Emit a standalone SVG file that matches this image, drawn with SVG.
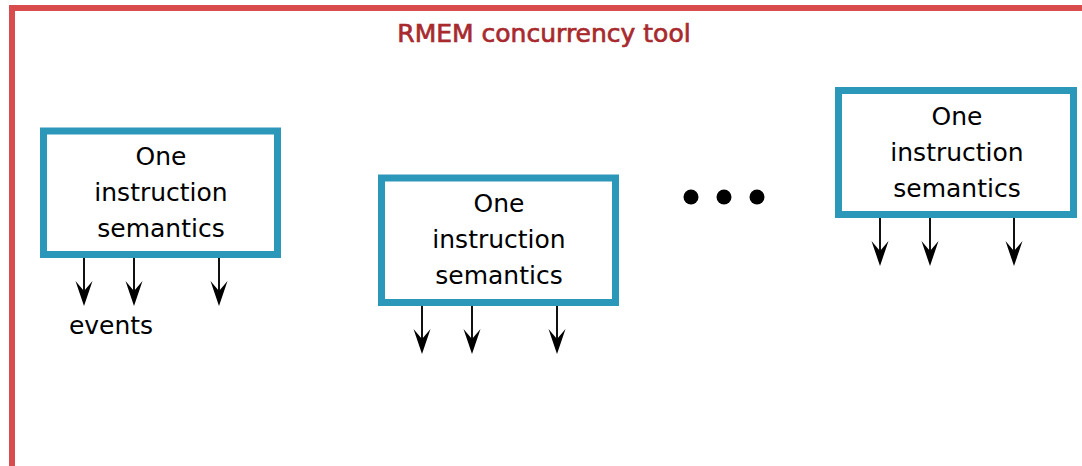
<svg xmlns="http://www.w3.org/2000/svg" width="1082" height="466" viewBox="0 0 1082 466">
  <style>
    .frame { fill: none; stroke: #d94c4e; stroke-width: 6; }
    .title { font-family: "DejaVu Sans", sans-serif; font-size: 25px; fill: #a82a2e; stroke: #a82a2e; stroke-width: 0.7; text-anchor: middle; }
    .box { fill: #ffffff; stroke: #2c98b9; stroke-width: 7; }
    .label { font-family: "DejaVu Sans", sans-serif; font-size: 25px; fill: #000000; text-anchor: middle; }
    .conn { stroke: #111111; stroke-width: 2; fill: none; marker-end: url(#barb); }
    .dot { fill: #000000; }
  </style>
  <defs>
    <marker id="barb" markerUnits="userSpaceOnUse" orient="auto" viewBox="-26 -10 27 20" refX="-10" refY="0" markerWidth="27" markerHeight="20">
      <path d="M0,0 L-25,-8.5 L-15,0 L-25,8.5 Z" fill="#000000"/>
    </marker>
  </defs>

  <rect width="1082" height="466" fill="#ffffff"/>

  <!-- outer tool frame, running off the right and bottom edges -->
  <rect class="frame" x="12" y="8" width="1090" height="480"/>
  <text class="title" x="544" y="42">RMEM concurrency tool</text>

  <g id="node-left">
    <rect class="box" x="43.5" y="131" width="234" height="123.5"/>
    <text class="label" x="161" y="165">One</text>
    <text class="label" x="161" y="201">instruction</text>
    <text class="label" x="161" y="237">semantics</text>
  </g>

  <g id="node-middle">
    <rect class="box" x="381.5" y="178" width="234" height="124.5"/>
    <text class="label" x="499" y="212">One</text>
    <text class="label" x="499" y="248">instruction</text>
    <text class="label" x="499" y="284">semantics</text>
  </g>

  <g id="node-right">
    <rect class="box" x="838.5" y="90.5" width="235" height="124"/>
    <text class="label" x="957" y="125">One</text>
    <text class="label" x="957" y="161">instruction</text>
    <text class="label" x="957" y="197">semantics</text>
  </g>

  <g id="ellipsis">
    <circle class="dot" cx="691" cy="197" r="7.5"/>
    <circle class="dot" cx="724" cy="197" r="7.5"/>
    <circle class="dot" cx="757" cy="197" r="7.5"/>
  </g>

  <g id="events-label">
    <text class="label" x="111" y="334">events</text>
  </g>

  <g id="connectors">
    <line class="conn" x1="84" y1="258" x2="84" y2="296"/>
    <line class="conn" x1="134" y1="258" x2="134" y2="296"/>
    <line class="conn" x1="219" y1="258" x2="219" y2="296"/>

    <line class="conn" x1="422" y1="306" x2="422" y2="344"/>
    <line class="conn" x1="472" y1="306" x2="472" y2="344"/>
    <line class="conn" x1="557" y1="306" x2="557" y2="344"/>

    <line class="conn" x1="880" y1="218" x2="880" y2="256"/>
    <line class="conn" x1="930" y1="218" x2="930" y2="256"/>
    <line class="conn" x1="1014" y1="218" x2="1014" y2="256"/>
  </g>
</svg>
